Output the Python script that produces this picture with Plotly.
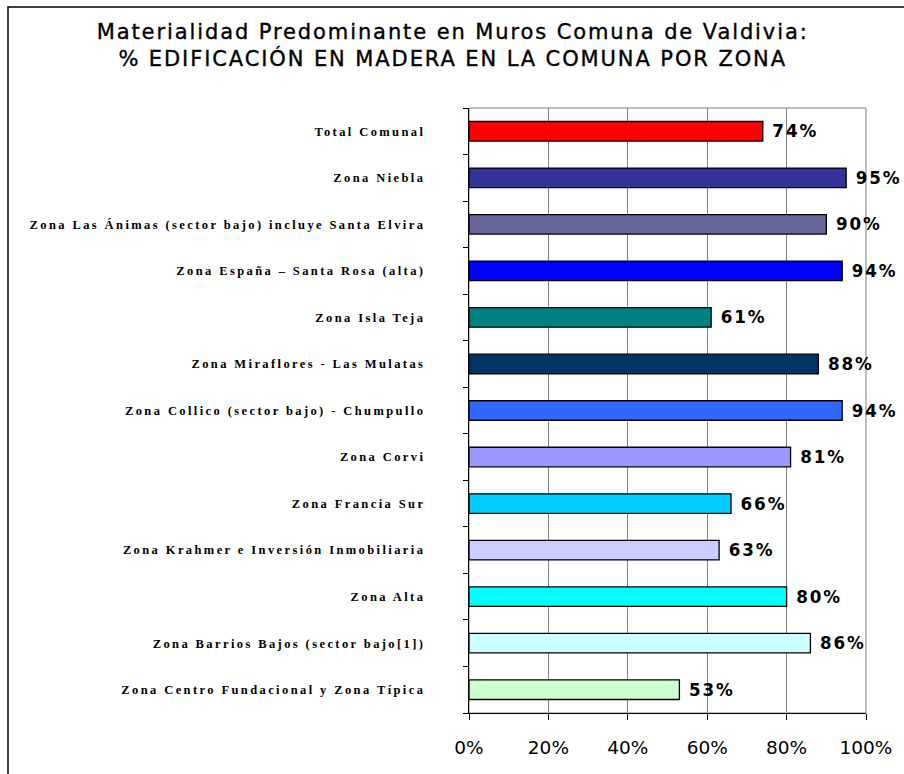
import plotly.graph_objects as go

categories = [
    "Total Comunal",
    "Zona Niebla",
    "Zona Las Ánimas (sector bajo) incluye Santa Elvira",
    "Zona España – Santa Rosa (alta)",
    "Zona Isla Teja",
    "Zona Miraflores - Las Mulatas",
    "Zona Collico (sector bajo) - Chumpullo",
    "Zona Corvi",
    "Zona Francia Sur",
    "Zona Krahmer e Inversión Inmobiliaria",
    "Zona Alta",
    "Zona Barrios Bajos (sector bajo[1])",
    "Zona Centro Fundacional y Zona Típica",
]
values = [0.74, 0.95, 0.90, 0.94, 0.61, 0.88, 0.94, 0.81, 0.66, 0.63, 0.80, 0.86, 0.53]
colors = ["#FF0000", "#333399", "#666699", "#0000FF", "#008080", "#003366", "#3366FF",
          "#9999FF", "#00CCFF", "#CCCCFF", "#00FFFF", "#CCFFFF", "#CCFFCC"]
x_ticks = [0, 0.2, 0.4, 0.6, 0.8, 1.0]
title_lines = ["Materialidad Predominante en Muros Comuna de Valdivia:",
               "% EDIFICACIÓN EN MADERA EN LA COMUNA POR ZONA"]

W, H = 904, 774
L, R, T, B = 469, 866, 108, 713
PW, PH = R - L, B - T


def px_x(p):
    return (p - L) / PW


def px_y(p):
    return (B - p) / PH


fig = go.Figure(go.Bar(
    y=categories, x=values, orientation="h",
    marker=dict(color=colors, line=dict(color="black", width=1.3)),
    width=0.42,
    text=["\u00a0\u200a" + f"{round(v*100)}%" for v in values],
    textposition="outside", cliponaxis=False,
    textfont=dict(family="DejaVu Sans", size=18, color="black", weight="bold"),
))

fig.update_layout(
    width=W, height=H,
    margin=dict(l=L, r=W - R, t=T, b=H - B, pad=0),
    paper_bgcolor="white", plot_bgcolor="white",
    showlegend=False,
    xaxis=dict(
        range=[0, 1], tickvals=x_ticks, tickformat=".0%",
        showgrid=True, gridcolor="#808080", gridwidth=1,
        showline=True, linecolor="black", linewidth=1.3,
        ticks="outside", ticklen=6, tickcolor="black",
        ticklabelstandoff=12,
        tickfont=dict(family="DejaVu Sans", size=18.5, color="black"),
        zeroline=False, fixedrange=True,
    ),
    yaxis=dict(
        categoryorder="array", categoryarray=categories[::-1],
        autorange=False, range=[-0.5, len(categories) - 0.5],
        showline=True, linecolor="black", linewidth=1.3,
        ticks="outside", ticklen=5, tickcolor="black", tickson="boundaries",
        ticklabelstandoff=40,
        tickfont=dict(family="Liberation Serif", size=12.5, color="black", weight="bold"),
        showgrid=False, zeroline=False, fixedrange=True,
    ),
    annotations=[
        dict(text="<br>".join(title_lines), xref="paper", yref="paper",
             x=px_x(452), y=px_y(46), xanchor="center", yanchor="middle",
             showarrow=False, align="center",
             font=dict(family="DejaVu Sans", size=21, color="black")),
    ],
    shapes=[
        dict(type="rect", xref="paper", yref="paper", x0=0, x1=1, y0=0, y1=1,
             line=dict(color="#808080", width=1), layer="below"),
        dict(type="rect", xref="paper", yref="paper",
             x0=px_x(8), x1=px_x(1000), y0=px_y(1000), y1=px_y(7),
             line=dict(color="black", width=1.5)),
    ],
)

post = """
document.body.style.margin='0';
document.body.style.overflow='hidden';
document.querySelectorAll('.ytick text').forEach(function(t){t.style.letterSpacing='2.4px';});
document.querySelectorAll('.annotation-text').forEach(function(t){t.style.letterSpacing='1.9px';t.style.stroke='black';t.style.strokeWidth='0.35px';});
document.querySelectorAll('.bartext, text.bartext').forEach(function(t){t.style.letterSpacing='2px';});
"""

fig.write_html("out.html", post_script=post, config={"displayModeBar": False})
